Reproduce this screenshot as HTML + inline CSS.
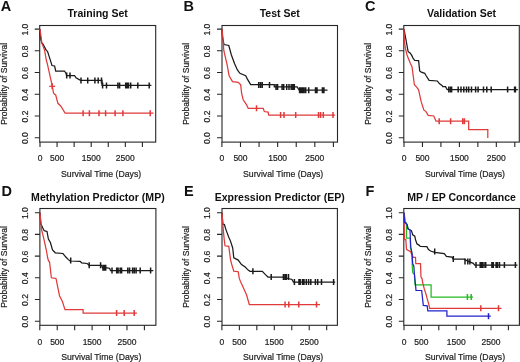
<!DOCTYPE html><html><head><meta charset="utf-8"><style>html,body{margin:0;padding:0;background:#fff;width:520px;height:362px;overflow:hidden}svg{display:block;will-change:transform}</style></head><body>
<svg width="520" height="362" viewBox="0 0 520 362" font-family='"Liberation Sans", sans-serif'>
<rect width="520" height="362" fill="#fff"/>
<rect x="39.7" y="25.5" width="116" height="116.6" fill="none" stroke="#262626" stroke-width="1.1"/>
<path d="M40 142.1V147.1M57.07 142.1V147.1M74.13 142.1V147.1M91.2 142.1V147.1M108.27 142.1V147.1M125.33 142.1V147.1M142.4 142.1V147.1M39.7 137.7H34.7M39.7 115.98H34.7M39.7 94.26H34.7M39.7 72.54H34.7M39.7 50.82H34.7M39.7 29.1H34.7" stroke="#262626" stroke-width="1.1" fill="none"/>
<text x="40" y="160.7" font-size="8.5" text-anchor="middle" fill="#222" stroke="#222" stroke-width="0.2">0</text>
<text x="57.07" y="160.7" font-size="8.5" text-anchor="middle" fill="#222" stroke="#222" stroke-width="0.2">500</text>
<text x="91.2" y="160.7" font-size="8.5" text-anchor="middle" fill="#222" stroke="#222" stroke-width="0.2">1500</text>
<text x="125.33" y="160.7" font-size="8.5" text-anchor="middle" fill="#222" stroke="#222" stroke-width="0.2">2500</text>
<text transform="translate(27.6 138.2) rotate(-90)" font-size="8.5" text-anchor="middle" fill="#222" stroke="#222" stroke-width="0.2">0.0</text>
<text transform="translate(27.6 116.48) rotate(-90)" font-size="8.5" text-anchor="middle" fill="#222" stroke="#222" stroke-width="0.2">0.2</text>
<text transform="translate(27.6 94.76) rotate(-90)" font-size="8.5" text-anchor="middle" fill="#222" stroke="#222" stroke-width="0.2">0.4</text>
<text transform="translate(27.6 73.04) rotate(-90)" font-size="8.5" text-anchor="middle" fill="#222" stroke="#222" stroke-width="0.2">0.6</text>
<text transform="translate(27.6 51.32) rotate(-90)" font-size="8.5" text-anchor="middle" fill="#222" stroke="#222" stroke-width="0.2">0.8</text>
<text transform="translate(27.6 29.6) rotate(-90)" font-size="8.5" text-anchor="middle" fill="#222" stroke="#222" stroke-width="0.2">1.0</text>
<text x="101.1" y="176.9" font-size="8.7" text-anchor="middle" fill="#222" stroke="#222" stroke-width="0.2">Survival Time (Days)</text>
<text transform="translate(6.6 83.8) rotate(-90)" font-size="8.5" text-anchor="middle" fill="#222" stroke="#222" stroke-width="0.2">Probability of Survival</text>
<text x="97.7" y="17.4" font-size="10.55" font-weight="bold" text-anchor="middle" fill="#111">Training Set</text>
<text x="0.7" y="10.5" font-size="14.5" font-weight="bold" fill="#111">A</text>
<path d="M40 29L40.5 38L41.7 43L43 44.2L46.3 50.4L47.5 51.3L48.8 55.4L50.4 60.4L52 65.5L54.6 66L55.7 71L64.5 71L66.2 73.8L66.5 75.5L74.5 75.5L76 77.7L80.5 80.4L102 80.4L102 85.4L151.4 85.4" stroke="#1a1a1a" stroke-width="1.25" fill="none" stroke-linejoin="miter"/>
<path d="M66.7 72.5V78.5M70 72.5V78.5M81 77.4V83.4M87.7 77.4V83.4M94.9 77.4V83.4M98.2 77.4V83.4M101.5 77.4V83.4M102.6 82.4V88.4M106.5 82.4V88.4M117.9 82.4V88.4M119.6 82.4V88.4M125.7 82.4V88.4M127 82.4V88.4M128.5 82.4V88.4M130.7 82.4V88.4M137.8 82.4V88.4M149.2 82.4V88.4" stroke="#1a1a1a" stroke-width="1.5" fill="none"/>
<path d="M40 29L41.9 43.2L44.6 50.4L46.3 60L47.4 64.2L52.4 86.5L53.5 93L54.6 94.3L55.7 95L57.9 103.3L60.7 106L65.1 113.2L153.5 113.2" stroke="#e03a3a" stroke-width="1.25" fill="none" stroke-linejoin="miter"/>
<path d="M52.2 83.3V89.3M83.1 110.3V116.3M89.4 110.3V116.3M99 110.3V116.3M105.6 110.3V116.3M115.1 110.3V116.3M122.9 110.3V116.3M150.2 110.3V116.3" stroke="#e03a3a" stroke-width="1.5" fill="none"/>
<path d="M49.2 86.3H55.2" stroke="#e03a3a" stroke-width="1.25" fill="none"/>
<rect x="222" y="25.5" width="115.5" height="116.6" fill="none" stroke="#262626" stroke-width="1.1"/>
<path d="M221.9 142.1V147.1M240.48 142.1V147.1M259.07 142.1V147.1M277.65 142.1V147.1M296.23 142.1V147.1M314.82 142.1V147.1M333.4 142.1V147.1M222 137.7H217M222 115.98H217M222 94.26H217M222 72.54H217M222 50.82H217M222 29.1H217" stroke="#262626" stroke-width="1.1" fill="none"/>
<text x="221.9" y="160.7" font-size="8.5" text-anchor="middle" fill="#222" stroke="#222" stroke-width="0.2">0</text>
<text x="240.48" y="160.7" font-size="8.5" text-anchor="middle" fill="#222" stroke="#222" stroke-width="0.2">500</text>
<text x="277.65" y="160.7" font-size="8.5" text-anchor="middle" fill="#222" stroke="#222" stroke-width="0.2">1500</text>
<text x="314.82" y="160.7" font-size="8.5" text-anchor="middle" fill="#222" stroke="#222" stroke-width="0.2">2500</text>
<text transform="translate(209.9 138.2) rotate(-90)" font-size="8.5" text-anchor="middle" fill="#222" stroke="#222" stroke-width="0.2">0.0</text>
<text transform="translate(209.9 116.48) rotate(-90)" font-size="8.5" text-anchor="middle" fill="#222" stroke="#222" stroke-width="0.2">0.2</text>
<text transform="translate(209.9 94.76) rotate(-90)" font-size="8.5" text-anchor="middle" fill="#222" stroke="#222" stroke-width="0.2">0.4</text>
<text transform="translate(209.9 73.04) rotate(-90)" font-size="8.5" text-anchor="middle" fill="#222" stroke="#222" stroke-width="0.2">0.6</text>
<text transform="translate(209.9 51.32) rotate(-90)" font-size="8.5" text-anchor="middle" fill="#222" stroke="#222" stroke-width="0.2">0.8</text>
<text transform="translate(209.9 29.6) rotate(-90)" font-size="8.5" text-anchor="middle" fill="#222" stroke="#222" stroke-width="0.2">1.0</text>
<text x="283.15" y="176.9" font-size="8.7" text-anchor="middle" fill="#222" stroke="#222" stroke-width="0.2">Survival Time (Days)</text>
<text transform="translate(188.9 83.8) rotate(-90)" font-size="8.5" text-anchor="middle" fill="#222" stroke="#222" stroke-width="0.2">Probability of Survival</text>
<text x="279.75" y="17.4" font-size="10.55" font-weight="bold" text-anchor="middle" fill="#111">Test Set</text>
<text x="183.6" y="10.5" font-size="14.5" font-weight="bold" fill="#111">B</text>
<path d="M222 29L222.5 37L224 44.5L228.8 45.5L231.3 54.7L234.6 63.8L237.4 70L239.9 73.3L245.7 75.8L247.4 79.1L250.7 84.6L274.3 84.6L274.3 86.9L297.1 86.9L299.2 90.2L327.5 90.2" stroke="#1a1a1a" stroke-width="1.25" fill="none" stroke-linejoin="miter"/>
<path d="M258.7 81.9V87.9M260.5 81.9V87.9M262.2 81.9V87.9M269.5 81.9V87.9M276 83.9V89.9M277.6 83.9V89.9M282.1 83.9V89.9M283.7 83.9V89.9M286.7 83.9V89.9M289 83.9V89.9M291.2 83.9V89.9M292.8 83.9V89.9M294.3 83.9V89.9M299.6 87.2V93.2M301.1 87.2V93.2M302.6 87.2V93.2M304.1 87.2V93.2M305.7 87.2V93.2M308.7 87.2V93.2M315.5 87.2V93.2M317 87.2V93.2M322.4 87.2V93.2M323.9 87.2V93.2" stroke="#1a1a1a" stroke-width="1.5" fill="none"/>
<path d="M222 29L222.8 37L223.8 50.5L227.1 64.6L229.1 75.8L232.5 81.6L238.3 82.4L240.7 84.9L241.6 93.2L243.2 99.8L246.6 104.8L248.2 108.3L263.2 108.3L264.3 111.5L268.1 112.1L268.7 115L335 115" stroke="#e03a3a" stroke-width="1.25" fill="none" stroke-linejoin="miter"/>
<path d="M256.5 105.2V111.2M280.6 112V118M284 112V118M295.7 112V118M318.5 112V118M320.6 112V118M323.3 112V118M333 112V118" stroke="#e03a3a" stroke-width="1.5" fill="none"/>
<rect x="403.8" y="25.5" width="115.5" height="116.6" fill="none" stroke="#262626" stroke-width="1.1"/>
<path d="M404 142.1V147.1M422.47 142.1V147.1M440.93 142.1V147.1M459.4 142.1V147.1M477.87 142.1V147.1M496.33 142.1V147.1M514.8 142.1V147.1M403.8 137.7H398.8M403.8 115.98H398.8M403.8 94.26H398.8M403.8 72.54H398.8M403.8 50.82H398.8M403.8 29.1H398.8" stroke="#262626" stroke-width="1.1" fill="none"/>
<text x="404" y="160.7" font-size="8.5" text-anchor="middle" fill="#222" stroke="#222" stroke-width="0.2">0</text>
<text x="422.47" y="160.7" font-size="8.5" text-anchor="middle" fill="#222" stroke="#222" stroke-width="0.2">500</text>
<text x="459.4" y="160.7" font-size="8.5" text-anchor="middle" fill="#222" stroke="#222" stroke-width="0.2">1500</text>
<text x="496.33" y="160.7" font-size="8.5" text-anchor="middle" fill="#222" stroke="#222" stroke-width="0.2">2500</text>
<text transform="translate(391.7 138.2) rotate(-90)" font-size="8.5" text-anchor="middle" fill="#222" stroke="#222" stroke-width="0.2">0.0</text>
<text transform="translate(391.7 116.48) rotate(-90)" font-size="8.5" text-anchor="middle" fill="#222" stroke="#222" stroke-width="0.2">0.2</text>
<text transform="translate(391.7 94.76) rotate(-90)" font-size="8.5" text-anchor="middle" fill="#222" stroke="#222" stroke-width="0.2">0.4</text>
<text transform="translate(391.7 73.04) rotate(-90)" font-size="8.5" text-anchor="middle" fill="#222" stroke="#222" stroke-width="0.2">0.6</text>
<text transform="translate(391.7 51.32) rotate(-90)" font-size="8.5" text-anchor="middle" fill="#222" stroke="#222" stroke-width="0.2">0.8</text>
<text transform="translate(391.7 29.6) rotate(-90)" font-size="8.5" text-anchor="middle" fill="#222" stroke="#222" stroke-width="0.2">1.0</text>
<text x="464.95" y="176.9" font-size="8.7" text-anchor="middle" fill="#222" stroke="#222" stroke-width="0.2">Survival Time (Days)</text>
<text transform="translate(370.7 83.8) rotate(-90)" font-size="8.5" text-anchor="middle" fill="#222" stroke="#222" stroke-width="0.2">Probability of Survival</text>
<text x="461.55" y="17.4" font-size="10.55" font-weight="bold" text-anchor="middle" fill="#111">Validation Set</text>
<text x="365.1" y="10.5" font-size="14.5" font-weight="bold" fill="#111">C</text>
<path d="M404 29L408.1 51.5L410.3 53.2L412 55.9L413 58.1L414.7 60.4L418.6 60.6L419.7 71L421.3 72.2L424.7 73.3L426.3 76L429.1 80.4L437.4 81L439.6 83.8L442 85.5L442.8 86.6L445.5 86.6L447.2 89.5L517.9 89.5" stroke="#1a1a1a" stroke-width="1.25" fill="none" stroke-linejoin="miter"/>
<path d="M448.8 86.5V92.5M450.5 86.5V92.5M451.6 86.5V92.5M458.2 86.5V92.5M461 86.5V92.5M463.8 86.5V92.5M466.5 86.5V92.5M468.7 86.5V92.5M471.5 86.5V92.5M475.6 86.5V92.5M478.1 86.5V92.5M483.5 86.5V92.5M486.8 86.5V92.5M491.2 86.5V92.5M507.6 86.5V92.5M514.6 86.5V92.5M515.4 86.5V92.5" stroke="#1a1a1a" stroke-width="1.5" fill="none"/>
<path d="M404 29L404.4 41.8L405.5 48.7L407 55L410.3 63.2L412 66.6L414.4 84.8L416.9 87.3L418.6 89.8L421.1 101.4L423.8 109.9L426 111.6L428.2 115.4L433.8 116L436 121.2L468.7 121.2L468.7 129.5L487.8 129.5L487.8 137.9" stroke="#e03a3a" stroke-width="1.25" fill="none" stroke-linejoin="miter"/>
<path d="M439.2 118.2V124.2M450.6 118.2V124.2M462.7 118.2V124.2M464.4 118.2V124.2" stroke="#e03a3a" stroke-width="1.5" fill="none"/>
<rect x="39.9" y="208.5" width="116" height="116.8" fill="none" stroke="#262626" stroke-width="1.1"/>
<path d="M39.8 325.3V330.3M57.23 325.3V330.3M74.67 325.3V330.3M92.1 325.3V330.3M109.53 325.3V330.3M126.97 325.3V330.3M144.4 325.3V330.3M39.9 321.2H34.9M39.9 299.5H34.9M39.9 277.8H34.9M39.9 256.1H34.9M39.9 234.4H34.9M39.9 212.7H34.9" stroke="#262626" stroke-width="1.1" fill="none"/>
<text x="39.8" y="344.7" font-size="8.5" text-anchor="middle" fill="#222" stroke="#222" stroke-width="0.2">0</text>
<text x="57.23" y="344.7" font-size="8.5" text-anchor="middle" fill="#222" stroke="#222" stroke-width="0.2">500</text>
<text x="92.1" y="344.7" font-size="8.5" text-anchor="middle" fill="#222" stroke="#222" stroke-width="0.2">1500</text>
<text x="126.97" y="344.7" font-size="8.5" text-anchor="middle" fill="#222" stroke="#222" stroke-width="0.2">2500</text>
<text transform="translate(27.8 321.7) rotate(-90)" font-size="8.5" text-anchor="middle" fill="#222" stroke="#222" stroke-width="0.2">0.0</text>
<text transform="translate(27.8 300) rotate(-90)" font-size="8.5" text-anchor="middle" fill="#222" stroke="#222" stroke-width="0.2">0.2</text>
<text transform="translate(27.8 278.3) rotate(-90)" font-size="8.5" text-anchor="middle" fill="#222" stroke="#222" stroke-width="0.2">0.4</text>
<text transform="translate(27.8 256.6) rotate(-90)" font-size="8.5" text-anchor="middle" fill="#222" stroke="#222" stroke-width="0.2">0.6</text>
<text transform="translate(27.8 234.9) rotate(-90)" font-size="8.5" text-anchor="middle" fill="#222" stroke="#222" stroke-width="0.2">0.8</text>
<text transform="translate(27.8 213.2) rotate(-90)" font-size="8.5" text-anchor="middle" fill="#222" stroke="#222" stroke-width="0.2">1.0</text>
<text x="101.3" y="360.3" font-size="8.7" text-anchor="middle" fill="#222" stroke="#222" stroke-width="0.2">Survival Time (Days)</text>
<text transform="translate(6.8 266.9) rotate(-90)" font-size="8.5" text-anchor="middle" fill="#222" stroke="#222" stroke-width="0.2">Probability of Survival</text>
<text x="97.9" y="200.7" font-size="10.55" font-weight="bold" text-anchor="middle" fill="#111">Methylation Predictor (MP)</text>
<text x="1.4" y="196.1" font-size="14.5" font-weight="bold" fill="#111">D</text>
<path d="M40 212.7L40.8 223.8L42.8 228L44.2 230.7L47 231.4L48.4 239L50.4 242.5L52.5 250L55.3 252.8L62.9 253.5L65.6 256.8L68.4 259.6L70 261L80.2 261.3L81.6 262.8L87.1 263.5L89.2 265.3L101.5 265.3L102.5 267.8L107.5 267.8L109.8 268.5L110.5 270.6L153.3 270.6" stroke="#1a1a1a" stroke-width="1.25" fill="none" stroke-linejoin="miter"/>
<path d="M70.7 257.5V263.5M89.2 262.3V268.3M100.6 262.3V268.3M103 264.8V270.8M104.4 264.8V270.8M105.7 264.8V270.8M112 267.6V273.6M116.7 267.6V273.6M118.1 267.6V273.6M120.2 267.6V273.6M121.6 267.6V273.6M127.8 267.6V273.6M129.6 267.6V273.6M132.6 267.6V273.6M134.3 267.6V273.6M136.1 267.6V273.6M140.2 267.6V273.6M150.6 267.6V273.6" stroke="#1a1a1a" stroke-width="1.5" fill="none"/>
<path d="M40 212.7L41.5 229.3L44.2 240.4L46.3 250L47.7 258L48.5 260.7L49.6 262.3L51.3 277.3L51.9 277.8L56 278.5L58.1 288.8L59.5 295.7L62.3 301.2L65 309.7L83.1 309.7L83.1 313.1L136.9 313.1" stroke="#e03a3a" stroke-width="1.25" fill="none" stroke-linejoin="miter"/>
<path d="M116.6 310.1V316.1M124.2 310.1V316.1M134.2 310.1V316.1" stroke="#e03a3a" stroke-width="1.5" fill="none"/>
<rect x="222" y="208.5" width="115.4" height="116.8" fill="none" stroke="#262626" stroke-width="1.1"/>
<path d="M221.9 325.3V330.3M239.37 325.3V330.3M256.83 325.3V330.3M274.3 325.3V330.3M291.77 325.3V330.3M309.23 325.3V330.3M326.7 325.3V330.3M222 321.2H217M222 299.5H217M222 277.8H217M222 256.1H217M222 234.4H217M222 212.7H217" stroke="#262626" stroke-width="1.1" fill="none"/>
<text x="221.9" y="344.7" font-size="8.5" text-anchor="middle" fill="#222" stroke="#222" stroke-width="0.2">0</text>
<text x="239.37" y="344.7" font-size="8.5" text-anchor="middle" fill="#222" stroke="#222" stroke-width="0.2">500</text>
<text x="274.3" y="344.7" font-size="8.5" text-anchor="middle" fill="#222" stroke="#222" stroke-width="0.2">1500</text>
<text x="309.23" y="344.7" font-size="8.5" text-anchor="middle" fill="#222" stroke="#222" stroke-width="0.2">2500</text>
<text transform="translate(209.9 321.7) rotate(-90)" font-size="8.5" text-anchor="middle" fill="#222" stroke="#222" stroke-width="0.2">0.0</text>
<text transform="translate(209.9 300) rotate(-90)" font-size="8.5" text-anchor="middle" fill="#222" stroke="#222" stroke-width="0.2">0.2</text>
<text transform="translate(209.9 278.3) rotate(-90)" font-size="8.5" text-anchor="middle" fill="#222" stroke="#222" stroke-width="0.2">0.4</text>
<text transform="translate(209.9 256.6) rotate(-90)" font-size="8.5" text-anchor="middle" fill="#222" stroke="#222" stroke-width="0.2">0.6</text>
<text transform="translate(209.9 234.9) rotate(-90)" font-size="8.5" text-anchor="middle" fill="#222" stroke="#222" stroke-width="0.2">0.8</text>
<text transform="translate(209.9 213.2) rotate(-90)" font-size="8.5" text-anchor="middle" fill="#222" stroke="#222" stroke-width="0.2">1.0</text>
<text x="283.1" y="360.3" font-size="8.7" text-anchor="middle" fill="#222" stroke="#222" stroke-width="0.2">Survival Time (Days)</text>
<text transform="translate(188.9 266.9) rotate(-90)" font-size="8.5" text-anchor="middle" fill="#222" stroke="#222" stroke-width="0.2">Probability of Survival</text>
<text x="279.7" y="200.7" font-size="10.55" font-weight="bold" text-anchor="middle" fill="#111">Expression Predictor (EP)</text>
<text x="184" y="196.1" font-size="14.5" font-weight="bold" fill="#111">E</text>
<path d="M222 212.7L222.8 224L224.4 224.6L226.1 230.1L228.8 237.3L230.5 241.1L232.7 248L233.8 257.9L238.2 260.1L241.5 264.5L244.9 266.8L248.2 270.1L250 271.3L262.3 271.3L265.7 274.9L268 277L282.3 277L292 279.5L293.4 282L335.2 282" stroke="#1a1a1a" stroke-width="1.25" fill="none" stroke-linejoin="miter"/>
<path d="M252.9 268.3V274.3M271.2 274V280M283.4 274V280M285 274V280M286.4 274V280M288.5 274V280M294.4 279V285M299 279V285M300.2 279V285M302.5 279V285M304 279V285M306.3 279V285M308.6 279V285M310.8 279V285M315.4 279V285M317.7 279V285M321.5 279V285M333.6 279V285" stroke="#1a1a1a" stroke-width="1.5" fill="none"/>
<path d="M222 212.7L223.3 230.1L224.4 241.1L225 245.8L228.8 246.3L230.5 259.6L231.6 264L233.8 271.2L238.2 271.7L239.3 278.4L240.4 281.2L243.8 288.8L246.6 295L249.3 304.5L320 304.5" stroke="#e03a3a" stroke-width="1.25" fill="none" stroke-linejoin="miter"/>
<path d="M285.1 301.5V307.5M288.8 301.5V307.5M298.8 301.5V307.5M316.5 301.5V307.5" stroke="#e03a3a" stroke-width="1.5" fill="none"/>
<rect x="403.8" y="208.5" width="115.6" height="116.8" fill="none" stroke="#262626" stroke-width="1.1"/>
<path d="M404 325.3V330.3M421.4 325.3V330.3M438.8 325.3V330.3M456.2 325.3V330.3M473.6 325.3V330.3M491 325.3V330.3M508.4 325.3V330.3M403.8 321.2H398.8M403.8 299.5H398.8M403.8 277.8H398.8M403.8 256.1H398.8M403.8 234.4H398.8M403.8 212.7H398.8" stroke="#262626" stroke-width="1.1" fill="none"/>
<text x="404" y="344.7" font-size="8.5" text-anchor="middle" fill="#222" stroke="#222" stroke-width="0.2">0</text>
<text x="421.4" y="344.7" font-size="8.5" text-anchor="middle" fill="#222" stroke="#222" stroke-width="0.2">500</text>
<text x="456.2" y="344.7" font-size="8.5" text-anchor="middle" fill="#222" stroke="#222" stroke-width="0.2">1500</text>
<text x="491" y="344.7" font-size="8.5" text-anchor="middle" fill="#222" stroke="#222" stroke-width="0.2">2500</text>
<text transform="translate(391.7 321.7) rotate(-90)" font-size="8.5" text-anchor="middle" fill="#222" stroke="#222" stroke-width="0.2">0.0</text>
<text transform="translate(391.7 300) rotate(-90)" font-size="8.5" text-anchor="middle" fill="#222" stroke="#222" stroke-width="0.2">0.2</text>
<text transform="translate(391.7 278.3) rotate(-90)" font-size="8.5" text-anchor="middle" fill="#222" stroke="#222" stroke-width="0.2">0.4</text>
<text transform="translate(391.7 256.6) rotate(-90)" font-size="8.5" text-anchor="middle" fill="#222" stroke="#222" stroke-width="0.2">0.6</text>
<text transform="translate(391.7 234.9) rotate(-90)" font-size="8.5" text-anchor="middle" fill="#222" stroke="#222" stroke-width="0.2">0.8</text>
<text transform="translate(391.7 213.2) rotate(-90)" font-size="8.5" text-anchor="middle" fill="#222" stroke="#222" stroke-width="0.2">1.0</text>
<text x="465" y="360.3" font-size="8.7" text-anchor="middle" fill="#222" stroke="#222" stroke-width="0.2">Survival Time (Days)</text>
<text transform="translate(370.7 266.9) rotate(-90)" font-size="8.5" text-anchor="middle" fill="#222" stroke="#222" stroke-width="0.2">Probability of Survival</text>
<text x="461.6" y="200.7" font-size="10.55" font-weight="bold" text-anchor="middle" fill="#111">MP / EP Concordance</text>
<text x="365.4" y="196.1" font-size="14.5" font-weight="bold" fill="#111">F</text>
<path d="M404 212.7L404.5 222.4L405.8 223L407.2 225.1L407.9 228.6L408.6 229.3L411.4 230.6L412.7 234.8L414.8 236.2L415.5 239.6L416.9 243.8L419 245.1L420.3 246.5L426.9 246.6L428.5 249.5L430.6 251L434.7 252.3L444.3 253.6L446.4 256.4L451.9 257.1L453.3 259.2L464.4 259.2L467.8 261.2L473.3 263.3L474.7 265.1L517.5 265.1" stroke="#1a1a1a" stroke-width="1.25" fill="none" stroke-linejoin="miter"/>
<path d="M434.7 248.5V254.5M453.3 256V262M465 258.5V264.5M467.8 258.5V264.5M469.9 258.5V264.5M476 262.1V268.1M480.2 262.1V268.1M481.6 262.1V268.1M483 262.1V268.1M485 262.1V268.1M485.7 262.1V268.1M491.9 262.1V268.1M493.3 262.1V268.1M496.1 262.1V268.1M497.5 262.1V268.1M499.5 262.1V268.1M504.4 262.1V268.1M515.4 262.1V268.1" stroke="#1a1a1a" stroke-width="1.5" fill="none"/>
<path d="M404 212.7L405.5 222L406.5 223.5L406.5 238L410.3 238L410.5 248L412 253.4L412.2 265L412.7 272.7L414.4 274.3L415 284.9L431.1 284.9L431.1 297.1L473.1 297.1" stroke="#22bb22" stroke-width="1.25" fill="none" stroke-linejoin="miter"/>
<path d="M467.4 294.1V300.1M471.2 294.1V300.1" stroke="#22bb22" stroke-width="1.5" fill="none"/>
<path d="M404 212.7L404.5 239.6L405.8 239.6L406.5 249.3L408.6 250.7L410.5 251.5L412.3 255.5L413.3 257.4L415.5 257.4L415.8 263.7L420.5 263.7L421 277.1L422.1 278.8L422.7 282.6L423.8 287L424.2 288.7L426.1 294.5L427.1 298.4L429 305.1L429.6 308.3L501.5 308.3" stroke="#e03a3a" stroke-width="1.25" fill="none" stroke-linejoin="miter"/>
<path d="M480.8 305.3V311.3M498.5 305.3V311.3" stroke="#e03a3a" stroke-width="1.5" fill="none"/>
<path d="M404 212.7L404.5 222.4L405.8 223L407.2 225.1L407.9 228.6L410 230L410.7 246.5L412 253.4L412.7 263.8L413.8 266L414.4 273.8L415.5 284.8L416 290.4L421.7 290.5L422.2 295.4L423.3 305.4L427.2 305.9L427.8 310.9L446.9 310.9L446.9 316.2L490.8 316.2" stroke="#2222cc" stroke-width="1.25" fill="none" stroke-linejoin="miter"/>
<path d="M488.5 313.2V319.2" stroke="#2222cc" stroke-width="1.5" fill="none"/>
</svg></body></html>
